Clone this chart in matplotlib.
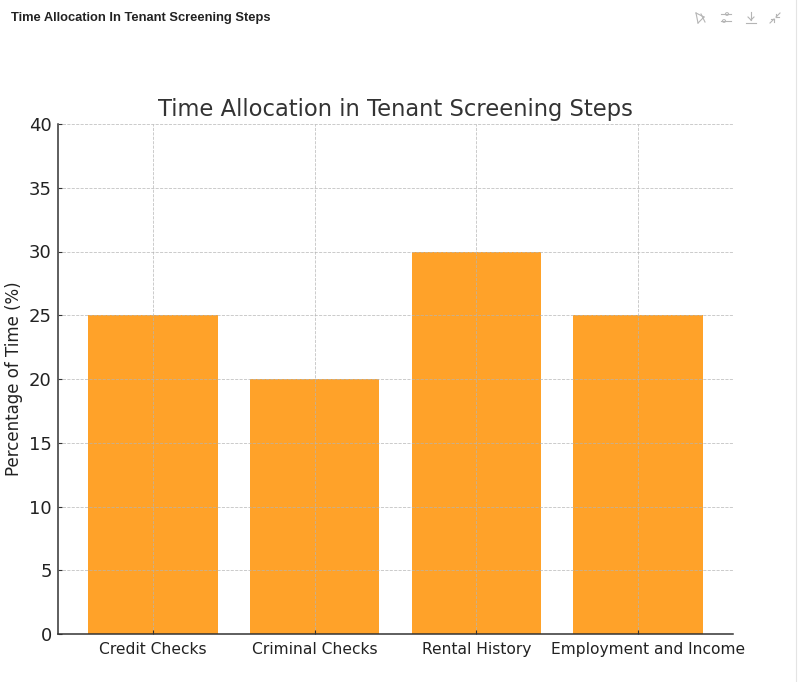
import matplotlib
matplotlib.use("Agg")
import matplotlib.pyplot as plt
from matplotlib.lines import Line2D
from matplotlib.patches import Circle
from matplotlib.transforms import ScaledTranslation

categories = ["Credit Checks", "Criminal Checks", "Rental History", "Employment and Income"]
values = [25, 20, 30, 25]
yticks = [0, 5, 10, 15, 20, 25, 30, 35, 40]

W, H = 800, 682
fig = plt.figure(figsize=(W / 100, H / 100), dpi=100, facecolor="white")
ax = fig.add_axes([58 / W, 1 - 634 / H, (733 - 58) / W, (634 - 124) / H])

ax.bar(categories, values, width=0.8, color="#ffa229", zorder=2)
ax.set_xlim(-0.588, 3.588)
ax.set_ylim(0, 40)
ax.set_yticks(yticks)
ax.grid(True, linestyle="--", linewidth=0.6, color="#b4b4b4", alpha=0.8, zorder=3)
ax.set_axisbelow(False)
ax.spines["top"].set_visible(False)
ax.spines["right"].set_visible(False)
ax.spines["left"].set_color("#333333")
ax.spines["bottom"].set_color("#333333")
ax.spines["left"].set_linewidth(1.1)
ax.spines["bottom"].set_linewidth(1.1)
ax.tick_params(axis="y", labelsize=13, length=3, direction="in", color="#333333", labelcolor="#222222", pad=4.5)
ax.tick_params(axis="x", labelsize=11.2, length=3, direction="in", color="#333333", labelcolor="#222222", pad=5.5)
# The last category label sits to the right of its tick in the reference
last = ax.get_xticklabels()[-1]
last.set_transform(last.get_transform() + ScaledTranslation(10 / 100, 0, fig.dpi_scale_trans))
ax.set_ylabel("Percentage of Time (%)", fontsize=12, color="#222222")
ax.yaxis.set_label_coords((23 - 58) / (733 - 58), (634 - 379) / (634 - 124))
ax.set_title("Time Allocation in Tenant Screening Steps", fontsize=16.3, color="#333333", pad=6)

fig.text(11 / W, 1 - 18 / H, "Time Allocation In Tenant Screening Steps",
         fontsize=9.3, fontweight="bold", family="Liberation Sans", color="#222222", va="center")

# Window chrome icons and right edge
grey = "#b5b5b5"
def seg(x0, y0, x1, y1, lw=0.8, c=grey):
    fig.add_artist(Line2D([x0 / W, x1 / W], [1 - y0 / H, 1 - y1 / H], lw=lw, color=c))

seg(796, 0, 796, 682, lw=0.8, c="#e4e4e4")
# sparkle-like icon
seg(696, 13, 704, 17); seg(704, 17, 698, 23); seg(698, 23, 696, 13); seg(701, 14, 705, 22)
# sliders
seg(721, 14, 731, 14); seg(721, 21, 731, 21)
fig.add_artist(Circle((727 / W, 1 - 14 / H), 0.002, transform=fig.transFigure, fc="white", ec=grey, lw=0.7))
fig.add_artist(Circle((724 / W, 1 - 21 / H), 0.002, transform=fig.transFigure, fc="white", ec=grey, lw=0.7))
# download
seg(751, 12, 751, 20); seg(748, 17, 751, 20); seg(754, 17, 751, 20); seg(746, 23, 756, 23)
# collapse
seg(770, 23, 774, 19); seg(771, 19, 774, 19); seg(774, 19, 774, 22)
seg(780, 13, 776, 17); seg(776, 14, 776, 17); seg(776, 17, 779, 17)

fig.savefig("out.png", dpi=100)
